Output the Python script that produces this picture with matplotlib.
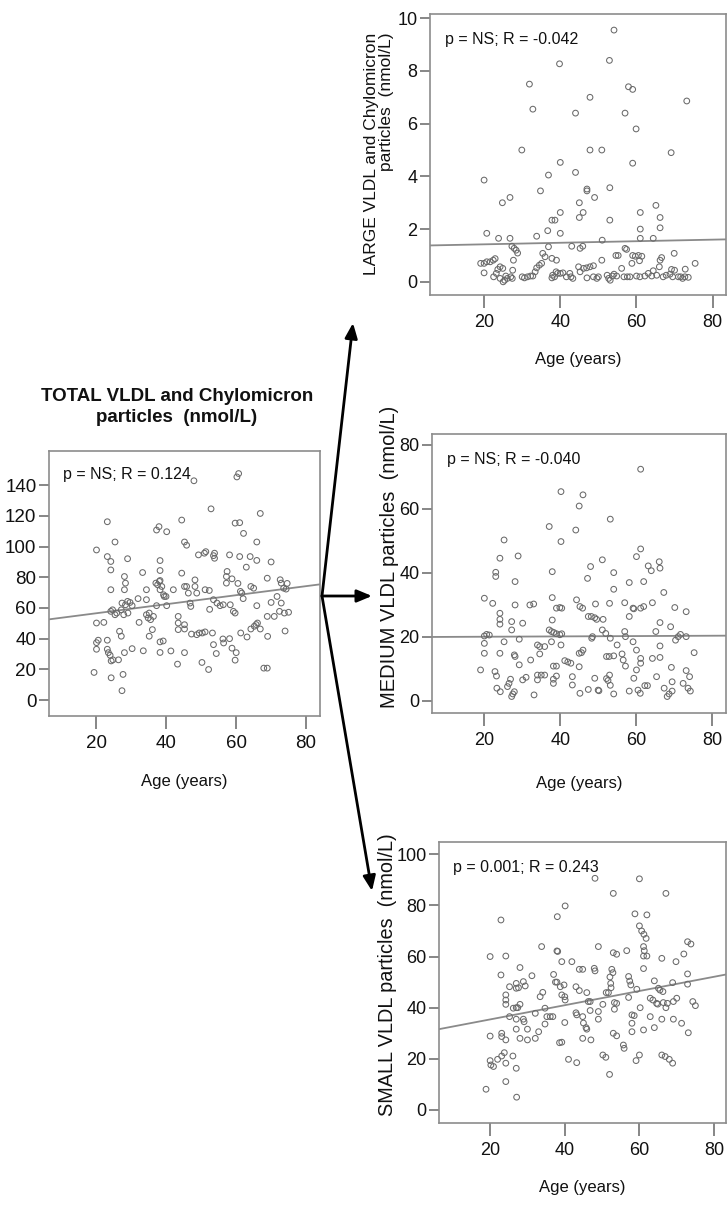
import matplotlib
matplotlib.use("Agg")
import matplotlib.pyplot as plt
from matplotlib.patches import FancyArrowPatch
import numpy as np

plt.rcParams['font.family'] = ['Liberation Sans', 'DejaVu Sans']

# ---- data ----
total_age = [20.0, 19.3, 20.0, 20.5, 23.1, 20.0, 23.1, 23.4, 23.9, 24.2, 24.7, 26.3, 20.0, 22.1, 23.1,
             23.1, 24.1, 24.1, 25.3, 24.1, 24.6, 24.1, 25.3, 25.8, 24.2, 27.6, 27.3, 26.6, 27.1, 28.0,
             28.0, 28.3, 28.0, 27.3, 28.3, 28.9, 29.6, 30.2, 28.9, 27.1, 27.8, 29.0, 30.2, 31.9, 33.2,
             33.4, 32.2, 34.3, 34.3, 34.3, 34.8, 35.1, 35.5, 36.3, 35.1, 36.0, 37.0, 37.5, 38.0, 38.2,
             38.7, 39.2, 39.4, 39.9, 38.2, 38.2, 38.2, 37.2, 37.9, 40.1, 37.2, 38.2, 39.1, 38.2, 41.3,
             40.1, 42.0, 43.4, 43.4, 43.4, 43.2, 44.4, 44.4, 45.2, 45.8, 45.2, 45.8, 45.2, 45.2, 45.2,
             46.3, 46.8, 47.0, 48.2, 48.2, 48.7, 47.2, 48.7, 49.4, 50.3, 51.1, 49.2, 50.9, 51.3, 50.2,
             51.1, 52.3, 52.4, 52.1, 52.8, 53.5, 53.8, 53.8, 53.2, 53.5, 53.5, 54.5, 55.4, 56.3, 54.3,
             56.2, 56.4, 57.2, 57.2, 57.4, 58.1, 58.8, 58.3, 59.2, 59.7, 58.1, 58.8, 59.7, 60.0, 59.7,
             60.2, 60.7, 61.0, 60.5, 61.2, 61.6, 61.3, 61.0, 62.1, 62.0, 62.9, 63.1, 64.0, 64.2, 65.0,
             64.2, 65.2, 65.7, 66.1, 65.9, 65.9, 65.9, 66.9, 66.9, 67.9, 68.9, 68.9, 68.9, 69.0, 70.0,
             70.0, 70.9, 71.7, 72.6, 72.9, 72.9, 72.4, 73.8, 75.0, 73.6, 74.3, 74.0, 74.6, 47.9]
total_val = [97.8, 18.0, 37.4, 39.0, 39.0, 33.1, 33.1, 30.9, 29.2, 25.5, 26.2, 26.2, 50.2, 50.6, 116.2,
             93.5, 90.3, 84.8, 103.0, 71.9, 58.8, 57.8, 55.6, 56.7, 14.5, 16.7, 6.1, 44.8, 41.6, 30.9,
             80.5, 76.2, 71.9, 63.2, 62.1, 64.3, 63.6, 61.5, 92.1, 58.8, 55.6, 56.7, 33.5, 66.1, 83.1,
             32.1, 50.6, 71.9, 65.4, 55.6, 53.5, 56.7, 52.4, 54.5, 41.6, 45.9, 76.2, 75.1, 77.3, 71.9,
             74.0, 68.6, 67.5, 67.5, 90.9, 84.4, 77.9, 110.8, 113.0, 109.7, 61.5, 37.9, 38.5, 31.0, 32.0,
             61.5, 71.9, 54.5, 50.2, 45.9, 23.4, 82.7, 117.3, 103.0, 100.9, 74.0, 74.0, 49.1, 46.3, 30.9,
             69.7, 63.2, 61.0, 78.3, 74.0, 69.7, 43.0, 42.6, 43.7, 43.7, 44.4, 94.6, 95.7, 96.7, 24.5,
             71.9, 71.4, 59.1, 19.9, 124.6, 94.1, 95.7, 92.4, 43.7, 36.1, 65.4, 63.2, 61.5, 62.1, 30.3,
             39.8, 37.2, 76.2, 80.5, 83.8, 94.6, 79.0, 62.1, 57.8, 56.7, 40.0, 33.8, 26.0, 30.9, 115.3,
             145.4, 147.6, 115.6, 76.0, 70.8, 69.7, 43.7, 93.5, 108.6, 66.1, 86.6, 41.1, 93.5, 74.0, 72.9,
             46.3, 48.1, 49.2, 50.2, 103.0, 91.0, 61.5, 121.6, 46.3, 20.8, 20.8, 79.4, 54.5, 41.5, 90.0,
             63.6, 54.5, 67.5, 78.4, 76.2, 63.2, 57.8, 56.7, 57.2, 72.9, 72.3, 45.0, 76.0, 142.9]

large_age = [20.0, 20.7, 23.8, 26.8, 24.8, 26.8, 29.9, 31.9, 32.8, 34.8, 36.9, 33.8, 36.7, 37.8, 38.6,
             39.8, 40.0, 40.0, 40.0, 44.0, 44.0, 45.0, 46.0, 45.0, 47.0, 47.0, 49.0, 47.8, 47.8, 50.9,
             53.0, 53.0, 52.9, 54.1, 57.0, 57.9, 59.0, 59.9, 59.0, 61.0, 61.0, 65.1, 66.2, 66.2, 69.1,
             73.2, 61.0, 64.4, 51.0,
             19.1, 20.0, 20.0, 20.7, 21.6, 22.4, 22.9, 22.5, 23.2, 23.6, 24.2, 24.2, 24.9, 25.0, 25.4,
             25.7, 26.1, 27.0, 27.4, 27.3, 27.9, 28.4, 28.8, 27.7, 27.5, 30.0, 30.6, 31.4, 32.2, 32.8,
             33.4, 33.8, 34.5, 35.1, 35.4, 36.0, 36.9, 37.8, 38.0, 38.5, 38.9, 39.3, 37.8, 39.0, 40.0,
             40.7, 41.6, 42.5, 42.8, 43.3, 43.0, 45.2, 45.9, 44.8, 45.2, 46.1, 46.9, 47.8, 48.7, 47.0,
             48.7, 49.6, 50.0, 50.9, 52.3, 52.7, 53.1, 53.7, 54.1, 54.8, 54.6, 55.2, 56.1, 57.0, 57.4,
             56.7, 57.6, 58.3, 59.0, 59.7, 60.5, 61.4, 58.8, 60.8, 60.0, 60.9, 62.2, 63.1, 64.0, 64.4,
             65.3, 66.2, 66.6, 66.0, 67.0, 67.8, 68.8, 69.5, 69.9, 69.2, 70.0, 71.0, 71.6, 72.1, 72.7,
             73.6, 75.4, 72.8]
large_val = [3.86, 1.84, 1.65, 1.65, 3.0, 3.2, 5.0, 7.5, 6.55, 3.45, 4.05, 1.73, 1.94, 2.34, 2.34,
             8.27, 4.53, 2.63, 1.84, 6.4, 4.15, 3.0, 2.63, 2.44, 3.45, 3.52, 3.2, 7.0, 5.0, 5.0,
             2.34, 3.57, 8.4, 9.55, 6.4, 7.4, 7.3, 5.8, 4.5, 2.63, 2.0, 2.9, 2.44, 2.05, 4.9,
             6.86, 1.65, 1.65, 1.58,
             0.70, 0.70, 0.34, 0.76, 0.76, 0.82, 0.88, 0.19, 0.32, 0.47, 0.57, 0.13, 0.51, 0.0, 0.06,
             0.22, 0.13, 0.19, 0.13, 1.35, 1.27, 1.20, 1.09, 0.82, 0.44, 0.19, 0.15, 0.19, 0.22, 0.22,
             0.38, 0.53, 0.63, 0.70, 1.08, 0.95, 1.33, 0.15, 0.25, 0.19, 0.38, 0.32, 0.89, 0.82, 0.32,
             0.34, 0.19, 0.32, 0.19, 0.13, 1.35, 1.27, 1.35, 0.57, 0.38, 0.51, 0.53, 0.57, 0.61, 0.15,
             0.19, 0.13, 0.19, 0.82, 0.25, 0.13, 0.06, 0.22, 0.29, 0.22, 1.0, 1.0, 0.51, 1.27, 1.23,
             0.19, 0.19, 0.19, 1.0, 0.97, 1.0, 0.97, 0.70, 0.80, 0.22, 0.19, 0.22, 0.32, 0.22, 0.42,
             0.25, 0.82, 0.92, 0.57, 0.19, 0.25, 0.29, 0.19, 1.08, 0.47, 0.44, 0.19, 0.19, 0.13, 0.19,
             0.17, 0.70, 0.48]

medium_age = [19.0, 20.0, 20.0, 20.6, 21.3, 20.0, 20.0, 22.2, 22.8, 23.2, 23.0, 23.0, 23.3, 24.2, 24.1,
              24.1, 24.1, 24.1, 24.1, 25.2, 25.2, 26.5, 26.1, 26.9, 27.2, 27.5, 27.9, 27.2, 27.2, 27.9,
              28.1, 28.1, 28.1, 28.9, 29.2, 29.2, 30.1, 30.1, 31.0, 32.0, 33.0, 32.2, 33.1, 34.0, 34.6,
              35.9, 34.6, 34.0, 35.0, 35.9, 34.0, 37.1, 37.1, 37.7, 38.3, 37.9, 37.9, 37.9, 37.7, 38.2,
              39.0, 38.2, 38.2, 39.0, 39.9, 40.4, 39.0, 39.9, 40.4, 39.0, 40.2, 40.2, 40.2, 41.2, 42.0,
              42.8, 43.2, 43.2, 44.1, 44.3, 45.0, 45.2, 45.9, 45.0, 45.0, 45.6, 46.0, 45.2, 46.0, 47.2,
              47.4, 47.4, 48.2, 48.0, 48.5, 48.3, 49.1, 49.3, 49.1, 49.6, 50.0, 50.2, 51.1, 51.3, 51.1,
              52.0, 52.2, 52.9, 52.2, 52.6, 53.0, 53.2, 53.0, 53.2, 53.2, 54.1, 54.1, 54.1, 54.1, 55.0,
              56.3, 56.6, 57.0, 57.0, 57.2, 57.2, 58.2, 58.2, 58.2, 59.2, 59.4, 59.2, 59.4, 60.1, 60.1,
              60.1, 60.5, 61.1, 61.2, 61.2, 61.2, 62.0, 61.2, 61.2, 62.0, 62.3, 63.0, 63.2, 64.0, 64.3,
              64.3, 65.2, 65.4, 66.1, 66.3, 66.3, 66.3, 66.3, 67.3, 67.4, 68.2, 68.7, 69.1, 69.3, 69.5,
              69.5, 70.2, 70.4, 71.1, 71.7, 72.4, 73.2, 73.2, 73.2, 73.7, 74.3, 74.1, 75.3]
medium_val = [9.7, 32.1, 20.3, 20.8, 20.6, 18.0, 14.9, 30.5, 9.2, 7.8, 40.2, 38.9, 4.0, 2.9, 44.6,
              27.4, 25.5, 24.0, 14.9, 50.3, 18.5, 5.5, 4.5, 6.8, 1.4, 2.2, 2.9, 24.8, 22.2, 14.4,
              13.9, 37.3, 30.0, 45.3, 19.3, 11.3, 24.3, 6.6, 7.4, 30.0, 30.3, 12.8, 1.9, 17.5, 17.0,
              17.0, 14.7, 8.1, 8.1, 8.1, 6.6, 54.5, 22.2, 21.7, 21.4, 32.3, 40.4, 25.3, 18.5, 10.9,
              10.9, 6.8, 5.5, 29.0, 29.2, 29.0, 21.0, 20.7, 21.0, 7.8, 65.4, 49.8, 17.5, 12.6, 12.2,
              11.8, 7.6, 5.0, 53.4, 31.6, 60.9, 29.5, 29.0, 10.7, 14.9, 15.1, 15.9, 2.4, 64.4, 38.3,
              3.6, 26.4, 26.4, 42.0, 20.1, 19.6, 7.1, 30.3, 26.0, 25.5, 3.4, 3.2, 44.1, 25.5, 22.2,
              21.1, 13.9, 13.9, 7.0, 6.4, 30.5, 56.8, 8.1, 4.9, 19.6, 40.1, 34.9, 14.1, 2.2, 17.5,
              14.7, 12.8, 30.7, 21.7, 20.1, 10.9, 37.0, 26.4, 3.1, 29.0, 28.8, 18.5, 7.1, 45.1, 15.9,
              9.7, 3.4, 2.4, 47.5, 72.4, 29.0, 29.5, 13.3, 11.8, 37.3, 4.8, 4.8, 42.2, 40.7, 30.7,
              13.3, 21.7, 7.6, 43.5, 41.5, 24.5, 17.2, 13.6, 33.9, 4.0, 1.4, 2.2, 23.2, 10.5, 6.0,
              3.1, 29.2, 19.0, 20.1, 20.8, 5.5, 27.9, 20.1, 9.5, 4.0, 3.1, 7.6, 15.1]

small_age = [18.9, 20.0, 20.0, 20.0, 20.2, 20.9, 22.9, 22.9, 23.1, 23.1, 22.0, 23.1, 23.8, 24.2, 24.2,
             24.2, 24.2, 24.2, 24.2, 24.2, 25.2, 25.2, 26.1, 26.2, 27.0, 27.4, 27.0, 27.0, 27.6, 27.0,
             27.0, 27.0, 27.1, 28.0, 28.0, 28.0, 28.9, 29.4, 28.9, 29.1, 30.0, 30.0, 31.2, 32.1, 32.1,
             33.0, 33.8, 33.4, 34.1, 34.7, 35.2, 36.1, 36.8, 34.7, 37.0, 37.5, 37.9, 38.0, 37.9, 38.1,
             38.6, 39.2, 38.8, 39.8, 39.2, 40.0, 40.1, 39.2, 40.0, 40.1, 41.0, 41.9, 43.0, 43.0, 43.2,
             43.2, 43.9, 44.8, 43.9, 44.8, 45.0, 45.7, 45.9, 44.8, 45.9, 46.3, 46.8, 46.8, 47.0, 47.9,
             48.1, 48.1, 49.0, 49.0, 49.0, 50.2, 50.2, 51.0, 51.1, 51.7, 52.0, 52.1, 52.3, 52.4, 52.6,
             52.9, 53.0, 53.0, 53.9, 53.3, 53.9, 53.3, 53.0, 53.9, 55.7, 55.9, 56.6, 57.1, 57.4, 57.7,
             57.1, 58.0, 58.6, 58.0, 58.0, 58.8, 59.1, 59.3, 60.0, 60.0, 60.0, 60.6, 61.2, 61.8, 61.1,
             61.3, 61.1, 62.0, 61.1, 60.2, 61.1, 62.0, 62.9, 63.6, 62.9, 64.0, 64.0, 64.6, 64.9, 65.1,
             65.5, 66.0, 66.0, 66.0, 66.9, 66.3, 66.4, 67.1, 67.1, 67.5, 68.0, 68.9, 68.9, 69.1, 69.1,
             70.0, 69.8, 71.3, 71.9, 72.9, 73.8, 72.9, 72.9, 73.1, 74.3, 75.0]
small_val = [8.1, 60.0, 28.9, 19.3, 17.6, 17.0, 74.3, 52.8, 30.0, 28.7, 19.8, 21.1, 22.4, 60.2, 45.0,
             43.0, 41.3, 27.4, 18.3, 11.1, 48.2, 36.5, 21.1, 39.8, 40.0, 40.0, 49.5, 47.6, 47.8, 35.5,
             31.6, 16.3, 5.0, 55.7, 41.3, 28.0, 50.2, 48.5, 35.5, 34.5, 31.6, 27.4, 52.5, 28.0, 37.8,
             30.6, 63.9, 44.3, 46.0, 33.6, 36.5, 36.5, 36.5, 39.8, 53.0, 50.0, 50.0, 75.6, 62.2, 62.0,
             26.3, 26.5, 48.2, 48.9, 45.0, 44.3, 43.0, 58.0, 34.2, 79.8, 19.8, 58.0, 48.2, 38.0, 37.2,
             18.5, 55.0, 55.0, 46.7, 36.5, 34.0, 32.2, 31.6, 28.0, 45.9, 42.4, 42.4, 38.9, 27.4, 55.4,
             54.4, 90.6, 63.9, 38.5, 35.5, 41.3, 21.5, 20.6, 45.9, 45.9, 13.9, 52.0, 49.5, 47.8, 55.0,
             53.7, 84.7, 61.5, 60.9, 42.0, 41.7, 39.4, 30.0, 29.0, 25.4, 24.1, 62.3, 52.2, 50.4, 48.9,
             44.0, 37.2, 36.9, 33.9, 30.6, 76.7, 19.3, 47.2, 21.5, 90.4, 72.0, 70.0, 68.7, 67.1, 63.9,
             62.3, 60.2, 60.2, 55.3, 40.0, 31.3, 76.3, 43.7, 43.0, 36.5, 50.5, 32.2, 41.7, 41.4, 47.6,
             46.9, 59.3, 35.5, 21.5, 20.9, 46.3, 42.0, 84.7, 40.0, 41.7, 19.8, 18.3, 49.8, 35.5, 42.4,
             43.7, 58.0, 33.9, 61.0, 65.8, 64.9, 53.2, 49.2, 30.2, 42.4, 40.8]

# fitted lines: (intercept, slope)
total_fit = (50.7, 0.294)
large_fit = (1.363, 0.00296)
medium_fit = (19.97, 0.0052)
small_fit = (29.85, 0.278)

stat_text = ["p = NS; R = 0.124", "p = NS; R = -0.042", "p = NS; R = -0.040", "p = 0.001; R = 0.243"]
x_ticks = [20, 40, 60, 80]

W, H = 728, 1206
fig = plt.figure(figsize=(W / 100, H / 100), dpi=100)
fig.patch.set_facecolor("white")


def px_axes(x0, y0, x1, y1):
    return fig.add_axes([x0 / W, 1 - y1 / H, (x1 - x0) / W, (y1 - y0) / H])


def panel(ax, age, val, fit, text, xlim, ylim, yticks, xlabel_y, tsize=13):
    ax.scatter(age, val, s=17, facecolors="none", edgecolors="#6a6a6a", linewidths=0.75, zorder=3)
    xs = np.array(xlim)
    ax.plot(xs, fit[0] + fit[1] * xs, color="#8a8a8a", lw=1.3, zorder=2)
    ax.set_xlim(xlim)
    ax.set_ylim(ylim)
    ax.set_xticks(x_ticks)
    ax.set_yticks(yticks)
    for s in ax.spines.values():
        s.set_color("#8c8c8c")
        s.set_linewidth(1.2)
    ax.tick_params(axis="x", direction="out", length=9, width=1.1, color="#666666",
                   pad=4.5, labelsize=tsize, labelcolor="#111111")
    ax.tick_params(axis="y", direction="out", length=7.5, width=1.1, color="#666666",
                   pad=1.5, labelsize=tsize, labelcolor="#111111")
    ax.text(0.05, 0.91, text, transform=ax.transAxes, fontsize=11.5, va="center", ha="left",
            color="#111111")
    ax.text(0.5, xlabel_y, "Age (years)", transform=ax.transAxes, fontsize=12,
            ha="center", va="center", color="#111111")


ax_tot = px_axes(49, 451, 320, 716)
panel(ax_tot, total_age, total_val, total_fit, stat_text[0], (6.4, 84.0), (-10.4, 162.3),
      range(0, 141, 20), -0.246, tsize=13.5)

ax_lg = px_axes(430, 14, 726, 295)
panel(ax_lg, large_age, large_val, large_fit, stat_text[1], (5.8, 83.5), (-0.5, 10.16),
      range(0, 11, 2), -0.231)

ax_md = px_axes(432, 434, 726, 713)
panel(ax_md, medium_age, medium_val, medium_fit, stat_text[2], (6.2, 83.7), (-3.75, 83.4),
      range(0, 81, 20), -0.254)

ax_sm = px_axes(439, 842, 726, 1123)
panel(ax_sm, small_age, small_val, small_fit, stat_text[3], (6.3, 83.2), (-5.1, 104.8),
      range(0, 101, 20), -0.228)

# titles / rotated labels
fig.text(177 / W, 1 - 407 / H, "TOTAL VLDL and Chylomicron\nparticles  (nmol/L)",
         ha="center", va="center", fontsize=13.5, fontweight="bold", linespacing=1.3,
         color="#111111")
ax_lg.text(-0.172, 0.504, "LARGE VLDL and Chylomicron\nparticles  (nmol/L)", transform=ax_lg.transAxes,
           rotation=90, ha="center", va="center", multialignment="right", fontsize=12.5,
           linespacing=0.98, color="#111111")
ax_md.text(-0.146, 0.56, "MEDIUM VLDL particles  (nmol/L)", transform=ax_md.transAxes,
           rotation=90, ha="center", va="center", fontsize=14.5, color="#111111")
ax_sm.text(-0.178, 0.527, "SMALL VLDL particles  (nmol/L)", transform=ax_sm.transAxes,
           rotation=90, ha="center", va="center", fontsize=14.3, color="#111111")

# arrows from the total panel
origin = (322, 596)
tips = [(353, 323), (372, 596), (372, 891)]
for tx, ty in tips:
    arr = FancyArrowPatch((origin[0] / W, 1 - origin[1] / H), (tx / W, 1 - ty / H),
                          transform=fig.transFigure, arrowstyle="-|>,head_length=0.6,head_width=0.25",
                          mutation_scale=15, lw=2.0, color="black", shrinkA=0, shrinkB=0)
    fig.add_artist(arr)

fig.savefig("out.png", dpi=100, facecolor="white")
